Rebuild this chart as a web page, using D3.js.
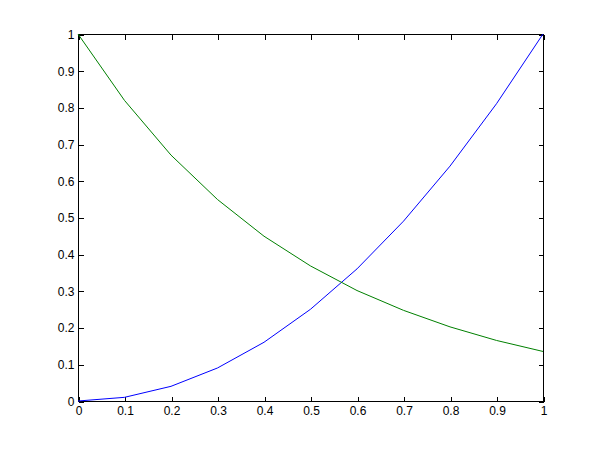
<!DOCTYPE html>
<html><head><meta charset="utf-8">
<script src="https://cdn.jsdelivr.net/npm/d3@7"></script>
<style>body{margin:0;background:#fff}svg{display:block}</style>
</head><body>
<svg id="c" width="600" height="450"></svg>
<script>
const xValues = [0,0.1,0.2,0.3,0.4,0.5,0.6,0.7,0.8,0.9,1];
const blueValues = [0,0.01,0.04,0.09,0.16,0.25,0.36,0.49,0.64,0.81,1];
const greenValues = [1,0.819,0.670,0.549,0.449,0.368,0.301,0.247,0.202,0.165,0.135];
const xTicks = [0,0.1,0.2,0.3,0.4,0.5,0.6,0.7,0.8,0.9,1];
const yTicks = [0,0.1,0.2,0.3,0.4,0.5,0.6,0.7,0.8,0.9,1];

const svg = d3.select("#c");
const L=78, R=543, T=34, B=401;
const x = d3.scaleLinear().domain([0,1]).range([L,R]);
const y = d3.scaleLinear().domain([0,1]).range([B,T]);
const font = "Helvetica, Arial, 'Liberation Sans', sans-serif";
const tl = 5;

const g = svg.append("g").attr("shape-rendering","crispEdges");
g.append("rect").attr("x",L+0.5).attr("y",T+0.5).attr("width",R-L).attr("height",B-T)
 .attr("fill","none").attr("stroke","#000");

const fmt = d => d3.format("")(+d.toFixed(1));
const xb = svg.append("g").attr("transform",`translate(0.5,${B+0.5})`)
  .call(d3.axisBottom(x).tickValues(xTicks).tickSize(-tl).tickPadding(5).tickFormat(fmt));
const xt = svg.append("g").attr("transform",`translate(0.5,${T+0.5})`)
  .call(d3.axisTop(x).tickValues(xTicks).tickSize(-tl).tickFormat(""));
const yl = svg.append("g").attr("transform",`translate(${L+0.5},0.5)`)
  .call(d3.axisLeft(y).tickValues(yTicks).tickSize(-tl).tickPadding(4).tickFormat(fmt));
const yr = svg.append("g").attr("transform",`translate(${R+0.5},0.5)`)
  .call(d3.axisRight(y).tickValues(yTicks).tickSize(-tl).tickFormat(""));
[xb,xt,yl,yr].forEach(a=>{
  a.select(".domain").remove();
  a.selectAll("line").attr("stroke","#000").attr("shape-rendering","crispEdges");
  a.selectAll("text").attr("fill","#000").style("font-family",font).style("font-size","12px");
});

const line = (vals) => d3.line().x((d,i)=>x(xValues[i])).y(d=>y(d))(vals);
svg.append("path").attr("d",line(blueValues)).attr("fill","none").attr("stroke","#0000ff").attr("stroke-width",1);
svg.append("path").attr("d",line(greenValues)).attr("fill","none").attr("stroke","#008000").attr("stroke-width",1);
</script>
</body></html>
